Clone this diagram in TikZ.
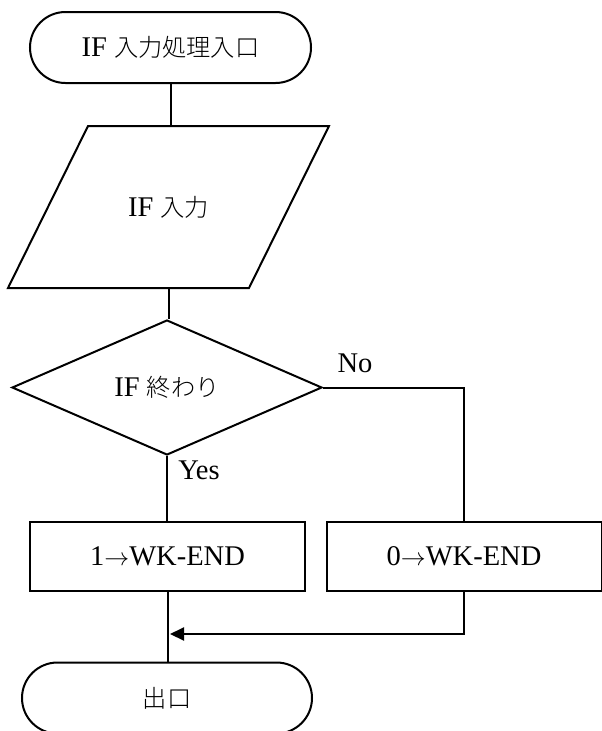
\documentclass[tikz,border=0pt]{standalone}
\usepackage{fontspec}
\setmainfont{Liberation Serif}
\newfontfamily\jp{Noto Sans CJK JP Light}[Scale=0.85]
\usetikzlibrary{shapes.geometric,arrows.meta}

\begin{document}
\begin{tikzpicture}[x=1pt, y=1pt, line width=2pt,
  font=\fontsize{28.5}{32}\selectfont,
  base/.style={draw, inner sep=0pt, line join=miter},
  term/.style={base, minimum width=#1, minimum height=71pt, rounded corners=35.5pt},
  iobody/.style={inner sep=0pt, minimum width=239pt, minimum height=160pt},
  decision/.style={base, diamond, aspect=2.3, minimum width=310pt, minimum height=135pt},
  proc/.style={base, rectangle, minimum width=275pt, minimum height=69pt},
  flow/.style={line join=miter},
  merge/.style={flow, -{Triangle[length=14pt, width=13pt]}}]

  \useasboundingbox (0,0) rectangle (602,-731);

  % shapes
  \node[term=281pt] (start) at (170.5,-47.5) {IF {\jp 入力処理入口}};
  \node[iobody] (in) at (168.5,-207) {IF {\jp 入力}};
  \draw[line join=miter] ([xshift=40pt]in.north west) -- ([xshift=40pt]in.north east)
    -- ([xshift=-40pt]in.south east) -- ([xshift=-40pt]in.south west) -- cycle;
  \node[decision] (dec) at (167,-387.5) {IF {\jp 終わり}};
  \node[proc] (p1) at (167.5,-556.5) {1$\rightarrow$WK-END};
  \node[proc] (p0) at (464,-556.5) {0$\rightarrow$WK-END};
  \node[term=290pt] (stop) at (167,-698) {{\jp 出口}};

  % branch labels
  \node (no) at (355,-363) {No};
  \node (yes) at (199,-470) {Yes};

  % flow lines
  \coordinate (join) at (170,-634);
  \draw[flow] (start.south) -- (start.south |- in.north);
  \draw[flow] (in.south) -- (in.south |- dec.north);
  \draw[flow] (dec.south) -- (dec.south |- p1.north);
  \draw[flow] (dec.east) -| (p0.north);
  \draw[flow] (p1.south) -- (p1.south |- stop.north);
  \draw[merge] (p0.south) |- (join);
\end{tikzpicture}
\end{document}
